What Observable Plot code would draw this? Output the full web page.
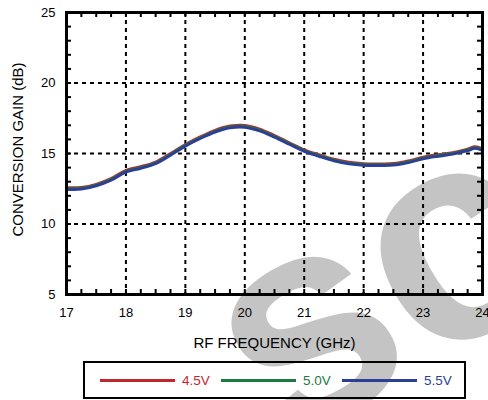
<!DOCTYPE html>
<html>
<head>
<meta charset="utf-8">
<script src="https://cdn.jsdelivr.net/npm/d3@7"></script>
<script src="https://cdn.jsdelivr.net/npm/@observablehq/plot@0.6"></script>
<style>
  html, body { margin: 0; padding: 0; background: #fff; }
  body { position: relative; width: 488px; height: 400px; overflow: hidden; font-family: "Liberation Sans", Arial, Helvetica, sans-serif; }
  #wm { position: absolute; left: 0; top: 0; z-index: 0; }
  #chart { position: relative; z-index: 1; }
  #legend { position: absolute; z-index: 1; left: 83px; top: 361px; width: 379px; height: 34px; border: 2px solid #000; display: flex; align-items: center; font-size: 13.5px; }
  .item { display: flex; align-items: center; position: absolute; top: 0; height: 34px; }
  .sw { width: 75px; height: 3px; margin-right: 7px; }
</style>
</head>
<body>
<svg id="wm" width="488" height="400"><text transform="translate(280,452) rotate(-30)" font-family="Liberation Sans, Arial, sans-serif" font-weight="bold" font-size="300" fill="#c4c4c4">sc</text></svg>
<div id="chart"></div>
<div id="legend"></div>
<script>
const freq = [17, 17.25, 17.5, 17.75, 18, 18.25, 18.5, 18.75, 19, 19.25, 19.5, 19.75, 20, 20.25, 20.5, 20.75, 21, 21.25, 21.5, 21.75, 22, 22.25, 22.5, 22.75, 23, 23.25, 23.5, 23.75, 23.875, 24];
const gain45 = [12.58, 12.6, 12.82, 13.22, 13.8, 14.07, 14.4, 15.0, 15.64, 16.18, 16.65, 16.95, 17.0, 16.74, 16.28, 15.77, 15.27, 14.92, 14.6, 14.38, 14.28, 14.27, 14.29, 14.47, 14.74, 14.92, 15.07, 15.32, 15.48, 15.33];
const gain50 = [12.52, 12.54, 12.76, 13.16, 13.74, 14.01, 14.34, 14.94, 15.58, 16.12, 16.58, 16.88, 16.93, 16.67, 16.22, 15.71, 15.21, 14.86, 14.54, 14.32, 14.22, 14.21, 14.23, 14.41, 14.68, 14.86, 15.01, 15.26, 15.42, 15.27];
const gain55 = [12.46, 12.47, 12.7, 13.1, 13.68, 13.95, 14.28, 14.88, 15.52, 16.06, 16.52, 16.82, 16.86, 16.6, 16.15, 15.65, 15.15, 14.8, 14.48, 14.26, 14.16, 14.15, 14.17, 14.35, 14.62, 14.8, 14.95, 15.2, 15.36, 15.21];
const seriesNames = ["4.5V", "5.0V", "5.5V"];
const seriesColors = ["#c1272d", "#1b7a3e", "#2b3e98"];
const xTicks = [17, 18, 19, 20, 21, 22, 23, 24];
const yTicks = [5, 10, 15, 20, 25];
const xMinor = d3.range(17, 24.001, 0.25);
const yMinor = d3.range(5, 25.001, 1);

const W = 488, H = 352, mL = 66, mR = 6, mT = 12, mB = 58;
const pw = W - mL - mR, ph = H - mT - mB;

const data = [];
[gain45, gain50, gain55].forEach((arr, i) => arr.forEach((g, j) => data.push({f: freq[j], g, s: seriesNames[i]})));

const font = '"Liberation Sans", Arial, Helvetica, sans-serif';
const chart = Plot.plot({
  width: W, height: H,
  marginLeft: mL, marginRight: mR, marginTop: mT, marginBottom: mB,
  style: {fontFamily: font, fontSize: "13px", color: "#000", background: "transparent", overflow: "visible"},
  x: {domain: [17, 24]},
  y: {domain: [5, 25]},
  color: {domain: seriesNames, range: seriesColors},
  marks: [
    Plot.ruleX(xTicks.slice(1, -1), {stroke: "#000", strokeWidth: 2, strokeDasharray: "4,4"}),
    Plot.ruleY(yTicks.slice(1, -1), {stroke: "#000", strokeWidth: 2, strokeDasharray: "4,4"}),
    Plot.tickY(yMinor, {y: d => d, stroke: "#000", strokeWidth: 2, insetRight: pw - 5}),
    Plot.tickY(yMinor, {y: d => d, stroke: "#000", strokeWidth: 2, insetLeft: pw - 5}),
    Plot.tickX(xMinor, {x: d => d, stroke: "#000", strokeWidth: 2, insetTop: ph - 5}),
    Plot.tickX(xMinor, {x: d => d, stroke: "#000", strokeWidth: 2, insetBottom: ph - 5}),
    Plot.line(data, {x: "f", y: "g", z: "s", stroke: "s", strokeWidth: 2.8, curve: "catmull-rom"}),
    Plot.frame({stroke: "#000", strokeWidth: 3}),
    Plot.axisY({ticks: yTicks, tickFormat: d => String(d), tickSize: 0, tickPadding: 11, label: null, fontSize: 13}),
    Plot.axisX({ticks: xTicks, tickFormat: d => String(d), tickSize: 0, tickPadding: 13, label: null, fontSize: 13}),
    Plot.text(["CONVERSION GAIN (dB)"], {text: d => d, frameAnchor: "left", textAnchor: "middle", lineAnchor: "middle", rotate: -90, dx: -48, dy: -4, fontSize: 15}),
    Plot.text(["RF FREQUENCY (GHz)"], {text: d => d, frameAnchor: "bottom", textAnchor: "middle", dy: 49, lineAnchor: "middle", fontSize: 15})
  ]
});
document.getElementById("chart").appendChild(chart);

const legend = document.getElementById("legend");
const offsets = [15, 136, 257];
seriesNames.forEach((n, i) => {
  const it = document.createElement("div");
  it.className = "item";
  it.style.left = offsets[i] + "px";
  it.style.color = seriesColors[i];
  const sw = document.createElement("span");
  sw.className = "sw";
  sw.style.background = seriesColors[i];
  it.appendChild(sw);
  it.appendChild(document.createTextNode(n));
  legend.appendChild(it);
});
</script>
</body>
</html>
